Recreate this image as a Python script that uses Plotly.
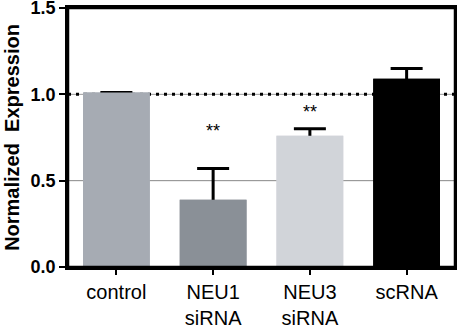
import plotly.graph_objects as go

categories = ["control", "NEU1<br>siRNA", "NEU3<br>siRNA", "scRNA"]
values = [1.01, 0.39, 0.76, 1.09]
errors = [None, 0.18, 0.04, 0.06]
colors = ["#A6ABB3", "#8A9097", "#D1D4D9", "#000000"]
sig_labels = ["", "**", "**", ""]
sig_y = [None, 0.79, 0.90, None]
y_ticks = [0.0, 0.5, 1.0, 1.5]
y_tick_text = ["0.0", "0.5", "1.0", "1.5"]
ref_line = 1.0
grid_line = 0.5

FONT = "Liberation Sans, Arial"

fig = go.Figure()
# bars with symmetric error bars; lower half is hidden by the overlay bars
fig.add_trace(go.Bar(
    x=categories, y=values,
    marker=dict(color=colors, line=dict(width=0)),
    width=0.69,
    error_y=dict(type="data", array=errors, symmetric=True,
                 color="black", thickness=3, width=16),
))
fig.add_trace(go.Bar(
    x=categories, y=values,
    marker=dict(color=colors, line=dict(width=0)),
    width=0.69,
))

fig.add_shape(type="line", xref="paper", x0=0, x1=1, yref="y", y0=grid_line, y1=grid_line,
              line=dict(color="#888888", width=1), layer="below")
fig.add_shape(type="line", xref="paper", x0=0, x1=1, yref="y", y0=ref_line, y1=ref_line,
              line=dict(color="#999999", width=1), layer="below")
fig.add_shape(type="line", xref="paper", x0=0, x1=1, yref="y", y0=ref_line, y1=ref_line,
              line=dict(color="black", width=3, dash="3px,5px"), layer="below")
fig.add_shape(type="rect", xref="paper", x0=0, x1=1, yref="paper", y0=0, y1=1,
              line=dict(color="black", width=2.5), layer="above")

for c, s, yy in zip(categories, sig_labels, sig_y):
    if s:
        fig.add_annotation(x=c, y=yy, text=s, showarrow=False,
                           font=dict(family=FONT, size=18, color="black"))

fig.update_layout(
    width=457, height=326,
    margin=dict(l=68, r=2, t=8, b=59),
    plot_bgcolor="white", paper_bgcolor="white",
    showlegend=False, barmode="overlay",
    font=dict(family=FONT, color="black"),
)
fig.update_xaxes(
    range=[-0.5, 3.5], showline=True, linecolor="black", linewidth=2.5, mirror=True,
    ticks="outside", ticklen=5, tickwidth=2, tickcolor="black",
    tickfont=dict(size=20, family=FONT), showgrid=False, automargin=False,
    ticklabeloverflow="allow",
)
fig.update_yaxes(
    range=[0, 1.5], tickvals=y_ticks, ticktext=y_tick_text,
    showline=True, linecolor="black", linewidth=2.5, mirror=True,
    ticks="outside", ticklen=6, tickwidth=2, tickcolor="black",
    tickfont=dict(size=18, family=FONT, weight="bold"),
    title=dict(text="<b>Normalized  Expression</b>", font=dict(size=20), standoff=6),
    showgrid=False, zeroline=False, automargin=False,
    ticklabeloverflow="allow",
)

fig.write_html("out.html", config={"displayModeBar": False},
               post_script="document.body.style.margin='0';")
